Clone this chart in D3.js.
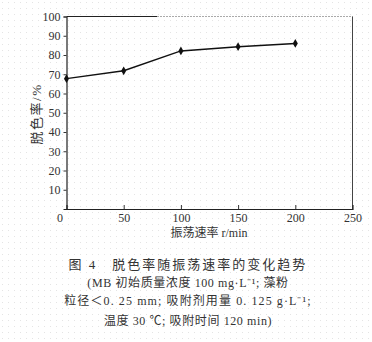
<!DOCTYPE html>
<html>
<head>
<meta charset="utf-8">
<script src="https://cdn.jsdelivr.net/npm/d3@7"></script>
<style>
body { margin: 0; background: #fff; }
text { font-family: "Liberation Serif", "Noto Sans CJK SC", serif; fill: #333; }
</style>
</head>
<body>
<svg id="chart" width="372" height="342"></svg>
<script>
// shaking speed (r/min) vs decolorization rate (%)
var speeds = [0, 50, 100, 150, 200];
var rates = [67.7, 71.8, 82.1, 84.3, 86.0];
var xTicks = [0, 50, 100, 150, 200, 250];
var yTicks = [10, 20, 30, 40, 50, 60, 70, 80, 90, 100];
var caption = [
  "图 4　脱色率随振荡速率的变化趋势",
  "(MB 初始质量浓度 100 mg·L⁻¹; 藻粉",
  "粒径＜0. 25 mm; 吸附剂用量 0. 125 g·L⁻¹;",
  "温度 30 ℃; 吸附时间 120 min)"
];

var svg = d3.select("#chart"),
    width = 372,
    height = 342;

// faint scan dots all over the page
var pat = svg.append("defs").append("pattern")
    .attr("id", "dots")
    .attr("width", 6).attr("height", 6)
    .attr("patternUnits", "userSpaceOnUse");
pat.append("rect").attr("x", 2).attr("y", 2).attr("width", 1).attr("height", 1).attr("fill", "#e4e4e4");
svg.append("rect").attr("width", width).attr("height", height).attr("fill", "url(#dots)");

var x = d3.scaleLinear().domain([0, 250]).range([66.5, 352.5]);
var y = d3.scaleLinear().domain([0, 100]).range([209, 16.5]);

// frame: top and right
svg.append("line")
    .attr("x1", x(0)).attr("x2", 157).attr("y1", y(100)).attr("y2", y(100))
    .attr("stroke", "#222").attr("stroke-width", 1.2);
svg.append("line")
    .attr("x1", 157).attr("x2", x(250)).attr("y1", y(100)).attr("y2", y(100))
    .attr("stroke", "#aaa").attr("stroke-width", 1).attr("stroke-dasharray", "2,1");
svg.append("line")
    .attr("x1", x(250)).attr("x2", x(250)).attr("y1", y(100)).attr("y2", y(0))
    .attr("stroke", "#444").attr("stroke-width", 1);

// x axis
var xAxis = svg.append("g")
    .attr("transform", "translate(0," + y(0) + ")")
    .call(d3.axisBottom(x).tickValues(xTicks).tickSize(-4).tickPadding(4).tickFormat(d3.format("d")));
xAxis.select(".domain").attr("stroke", "#222").attr("stroke-width", 1.2);
xAxis.selectAll(".tick line").attr("stroke", "#333");
xAxis.selectAll(".tick").filter(function(d) { return d === 0 || d === 250; }).select("line").remove();
xAxis.selectAll(".tick text").attr("font-size", 12).attr("fill", "#333")
    .attr("font-family", "Liberation Serif, serif")
    .attr("dx", function(d) { return d === 0 ? -7 : 0; });

// y axis
var yAxis = svg.append("g")
    .attr("transform", "translate(" + x(0) + ",0)")
    .call(d3.axisLeft(y).tickValues(yTicks).tickSize(3).tickPadding(3).tickFormat(d3.format("d")));
yAxis.select(".domain").attr("stroke", "#222").attr("stroke-width", 1.2);
yAxis.selectAll(".tick line").attr("stroke", "#333");
yAxis.selectAll(".tick text").attr("font-size", 12).attr("fill", "#333")
    .attr("font-family", "Liberation Serif, serif");

// data line
var line = d3.line().x(function(d, i) { return x(speeds[i]); }).y(function(d) { return y(d); });
svg.append("path")
    .datum(rates)
    .attr("d", line)
    .attr("fill", "none")
    .attr("stroke", "#111")
    .attr("stroke-width", 1.4);
svg.selectAll(".pt")
    .data(rates)
    .enter().append("path")
    .attr("class", "pt")
    .attr("d", d3.symbol().type(d3.symbolDiamond).size(22))
    .attr("transform", function(d, i) { return "translate(" + x(speeds[i]) + "," + y(d) + ")"; })
    .attr("fill", "#111");

// axis titles
svg.append("text")
    .attr("transform", "translate(41,114) rotate(-90)")
    .attr("text-anchor", "middle")
    .attr("font-size", 13)
    .attr("letter-spacing", 1.5)
    .text("脱色率/%");
svg.append("text")
    .attr("x", 209).attr("y", 237)
    .attr("text-anchor", "middle")
    .attr("font-size", 12)
    .text("振荡速率 r/min");

// caption
var capY = [269, 287, 305, 325];
var capSize = [13, 12, 12, 12];
var capSpacing = [2, 0.6, 1.1, 0.6];
svg.selectAll(".cap")
    .data(caption)
    .enter().append("text")
    .attr("class", "cap")
    .attr("x", 188)
    .attr("y", function(d, i) { return capY[i]; })
    .attr("text-anchor", "middle")
    .attr("font-size", function(d, i) { return capSize[i]; })
    .attr("letter-spacing", function(d, i) { return capSpacing[i]; })
    .text(function(d) { return d; });
</script>
</body>
</html>
